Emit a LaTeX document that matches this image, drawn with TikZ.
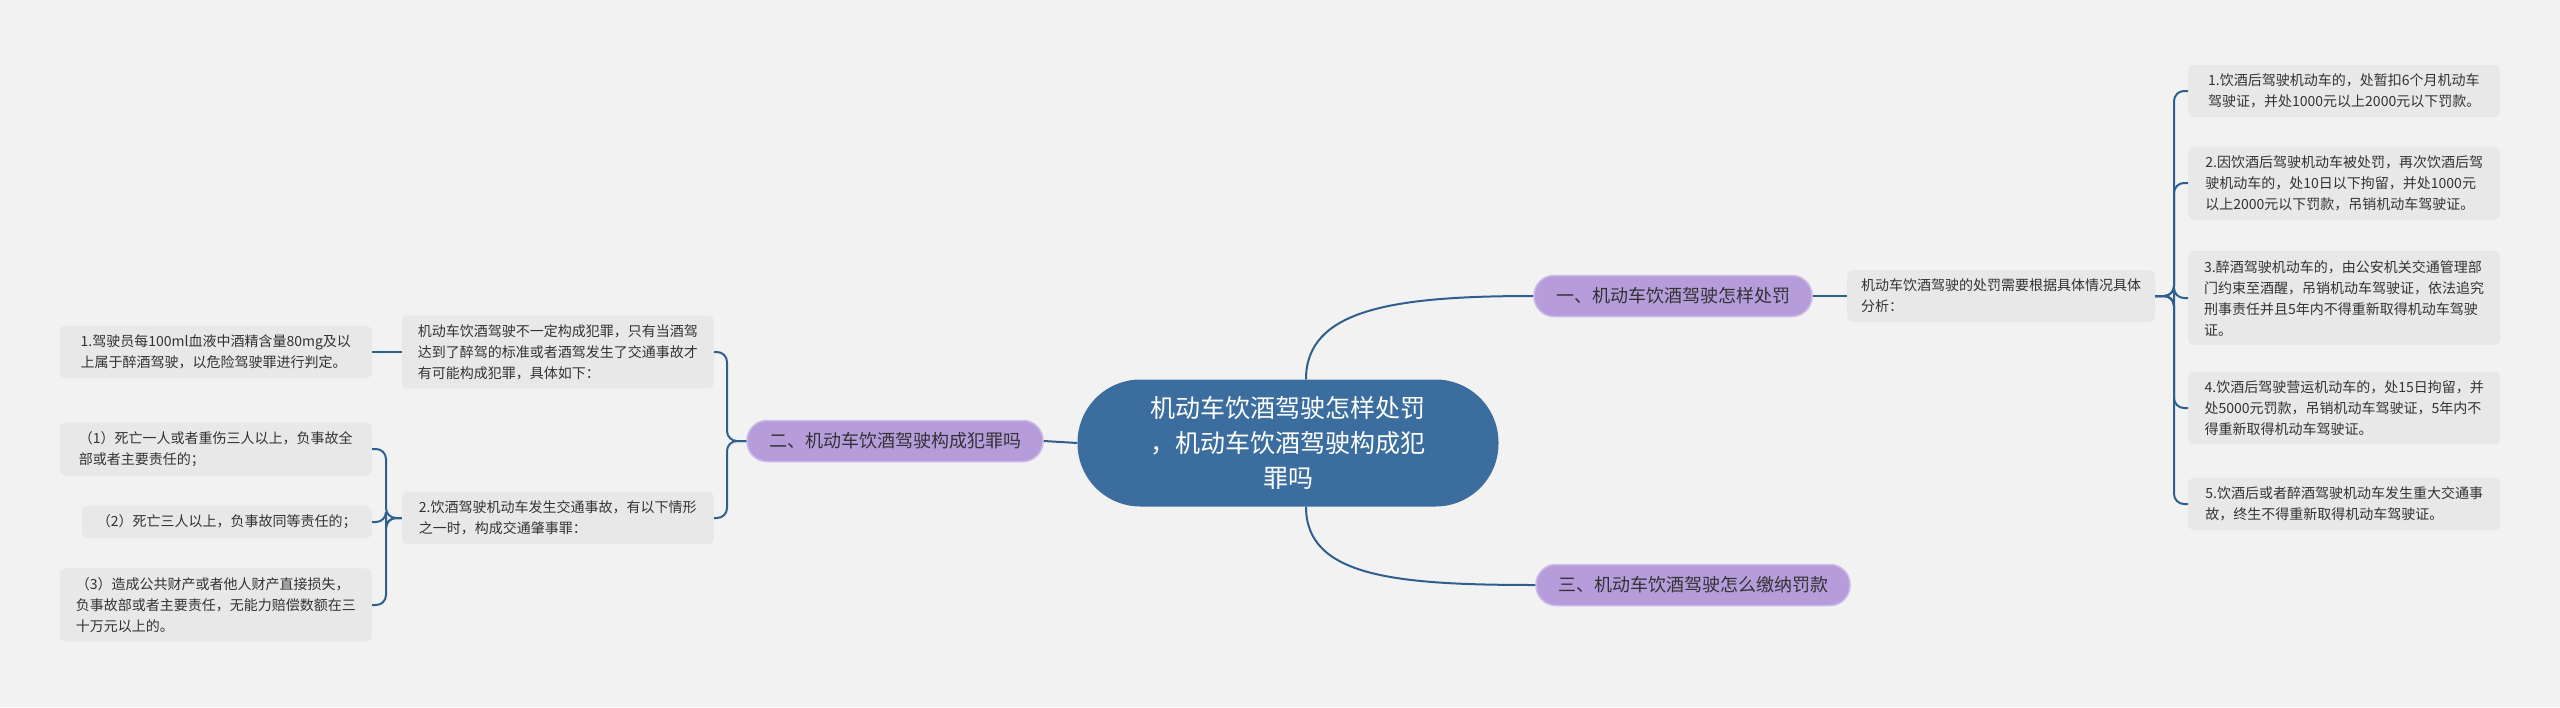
\documentclass[tikz,border=0pt]{standalone}
\usepackage{fontspec}
\setmainfont{Noto Sans CJK SC}
\definecolor{bgc}{HTML}{F2F2F2}
\definecolor{boxc}{HTML}{E8E8E8}
\definecolor{linec}{HTML}{2F5F8C}
\definecolor{rootc}{HTML}{3B6E9E}
\definecolor{topicc}{HTML}{B79CDC}
\definecolor{topicb}{HTML}{CDB9EA}
\definecolor{txtc}{HTML}{333333}
\tikzset{
  leaf/.style={fill=boxc, rounded corners=6pt, inner sep=9pt, align=left, text=txtc,
    font=\fontsize{14}{21}\selectfont, minimum width=312pt},
  topic/.style={fill=topicc, draw=topicb, line width=1.5pt, rounded corners=20pt, inner xsep=22pt,
    minimum height=41pt, text=txtc, font=\fontsize{18}{22}\selectfont},
  conn/.style={draw=linec, line width=2pt, rounded corners=10pt}
}
\begin{document}
\begin{tikzpicture}[x=1pt,y=-1pt]
% background
\fill[bgc] (0,0) rectangle (2560,707);
\useasboundingbox (0,0) rectangle (2560,707);

% root
\node[fill=rootc, rounded corners=63pt, minimum width=421pt, minimum height=127pt, align=center,
  text=white, font=\fontsize{25}{35}\selectfont] (root) at (1288,443)
  {机动车饮酒驾驶怎样处罚\\，机动车饮酒驾驶构成犯\\罪吗};

% topics
\node[topic] (t1) at (1673,296) {一、机动车饮酒驾驶怎样处罚};
\node[topic] (t2) at (895,441) {二、机动车饮酒驾驶构成犯罪吗};
\node[topic] (t3) at (1693,585) {三、机动车饮酒驾驶怎么缴纳罚款};

% right side
\node[leaf, minimum width=308pt] (m1) at (2001,296) {机动车饮酒驾驶的处罚需要根据具体情况具体\\分析：};
\node[leaf, anchor=west] (r1) at (2188,91) {1.饮酒后驾驶机动车的，处暂扣6个月机动车\\驾驶证，并处1000元以上2000元以下罚款。};
\node[leaf, anchor=west] (r2) at (2188,183) {2.因饮酒后驾驶机动车被处罚，再次饮酒后驾\\驶机动车的，处10日以下拘留，并处1000元\\以上2000元以下罚款，吊销机动车驾驶证。};
\node[leaf, anchor=west] (r3) at (2188,298) {3.醉酒驾驶机动车的，由公安机关交通管理部\\门约束至酒醒，吊销机动车驾驶证，依法追究\\刑事责任并且5年内不得重新取得机动车驾驶\\证。};
\node[leaf, anchor=west] (r4) at (2188,408) {4.饮酒后驾驶营运机动车的，处15日拘留，并\\处5000元罚款，吊销机动车驾驶证，5年内不\\得重新取得机动车驾驶证。};
\node[leaf, anchor=west] (r5) at (2188,504) {5.饮酒后或者醉酒驾驶机动车发生重大交通事\\故，终生不得重新取得机动车驾驶证。};

% left side
\node[leaf, anchor=east] (l1) at (714,352) {机动车饮酒驾驶不一定构成犯罪，只有当酒驾\\达到了醉驾的标准或者酒驾发生了交通事故才\\有可能构成犯罪，具体如下：};
\node[leaf, anchor=east] (l2) at (714,518) {2.饮酒驾驶机动车发生交通事故，有以下情形\\之一时，构成交通肇事罪：};
\node[leaf, anchor=east] (k0) at (372,352) {1.驾驶员每100ml血液中酒精含量80mg及以\\上属于醉酒驾驶，以危险驾驶罪进行判定。};
\node[leaf, anchor=east] (k1) at (372,449) {（1）死亡一人或者重伤三人以上，负事故全\\部或者主要责任的；};
\node[leaf, anchor=east, minimum width=290pt] (k2) at (372,522) {（2）死亡三人以上，负事故同等责任的；};
\node[leaf, anchor=east] (k3) at (372,605) {（3）造成公共财产或者他人财产直接损失，\\负事故部或者主要责任，无能力赔偿数额在三\\十万元以上的。};

% connectors
\coordinate (rs) at (2174,296);
\coordinate (ls) at (727,441);
\coordinate (ks) at (386,518);
\draw[conn] ([xshift=18pt]root.north) .. controls +(0,-70) and +(-140,0) .. (t1.west);
\draw[conn] ([xshift=18pt]root.south) .. controls +(0,70) and +(-140,0) .. (t3.west);
\draw[conn] (root.west) -- (t2.east);
\draw[conn] (t1.east) -- (m1.west);
\foreach \n in {r1,r2,r3,r4,r5}
  \draw[conn] (m1.east) -- (rs) |- (\n.west);
\foreach \n in {l1,l2}
  \draw[conn] (t2.west) -- (ls) |- (\n.east);
\draw[conn] (l1.west) -- (k0.east);
\foreach \n in {k1,k2,k3}
  \draw[conn] (l2.west) -- (ks) |- (\n.east);
\end{tikzpicture}
\end{document}
